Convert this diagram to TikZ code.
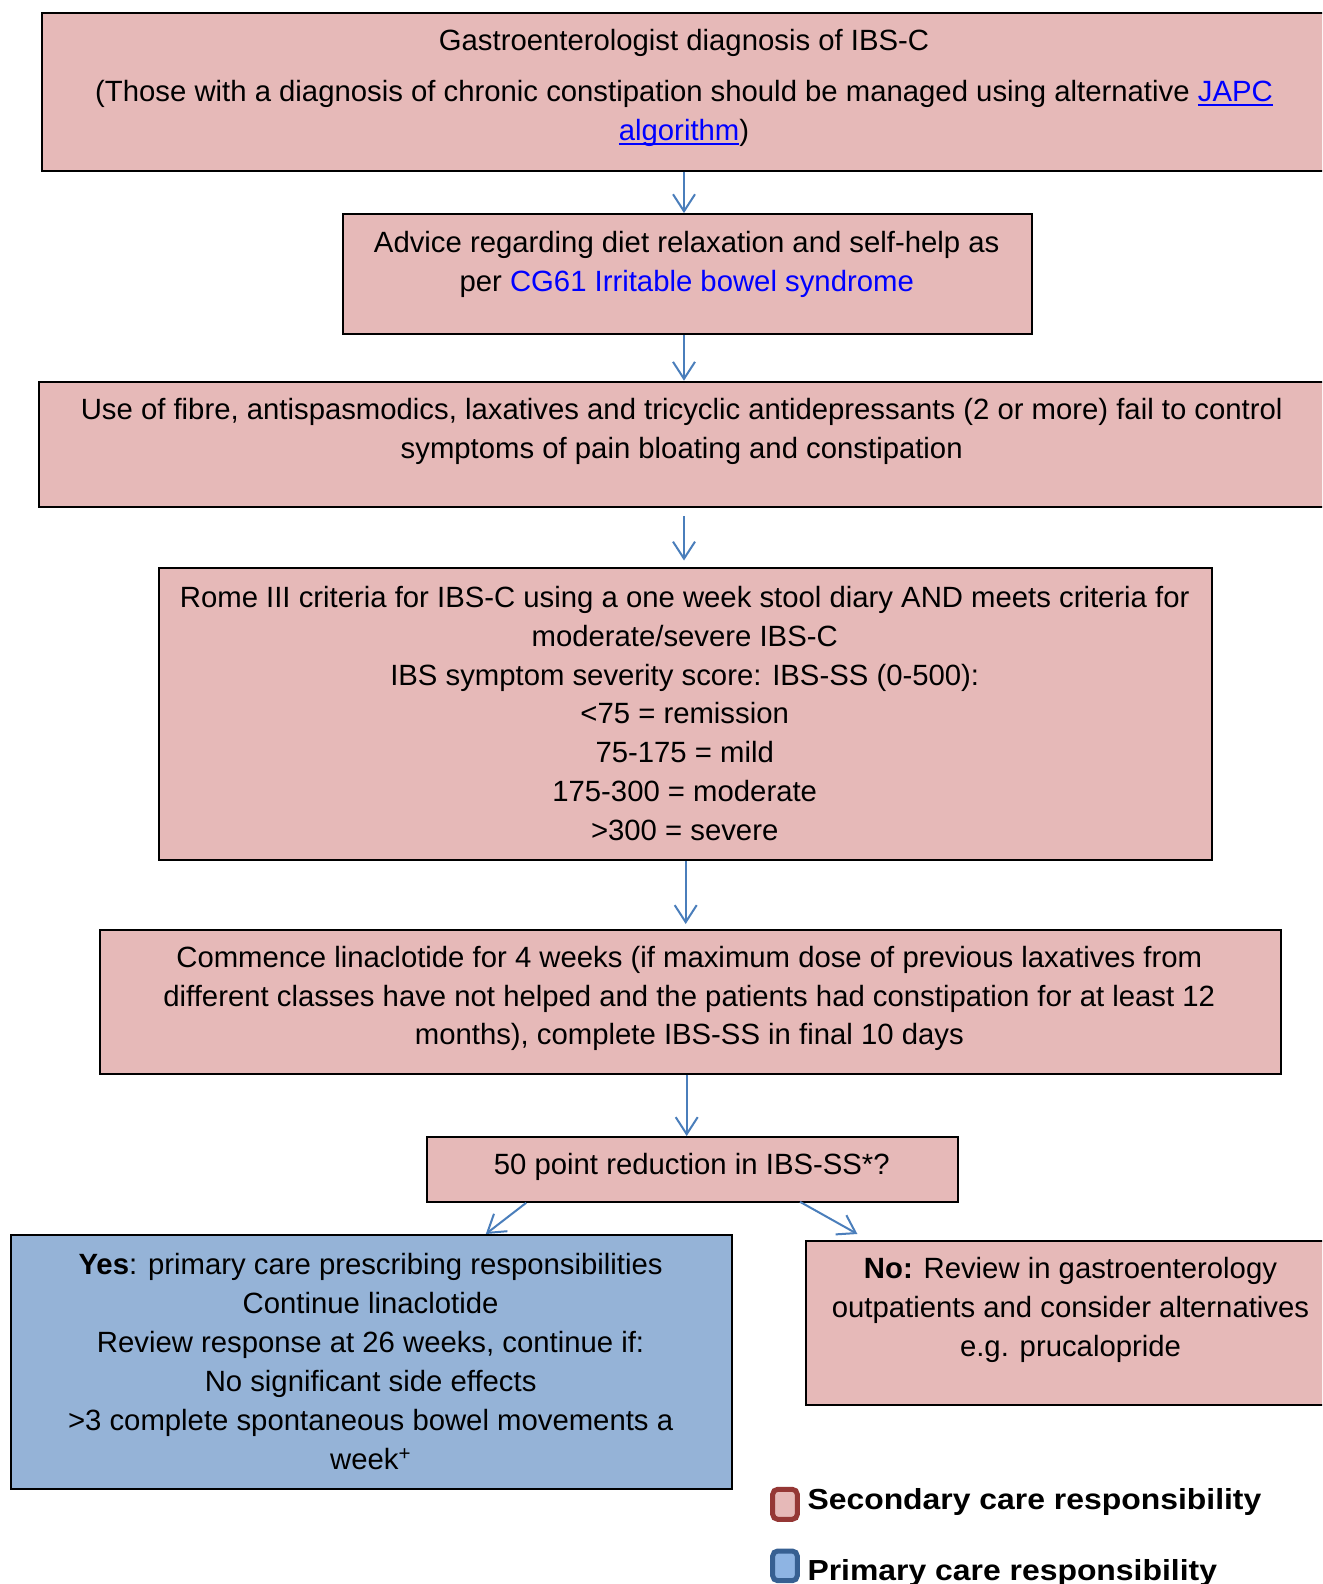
\documentclass[tikz,border=0pt]{standalone}
\usepackage{fontspec}
\usepackage{graphicx}
\setmainfont{Liberation Sans}
\usetikzlibrary{arrows.meta}
\definecolor{pinkfill}{HTML}{E6B9B8}
\definecolor{bluefill}{HTML}{95B3D7}
\definecolor{arrowblue}{HTML}{4A7EBB}
\definecolor{linkblue}{HTML}{0000FF}
\definecolor{legred}{HTML}{953735}
\definecolor{legblue}{HTML}{376092}
\definecolor{legbluefill}{HTML}{8EB4E3}
\newcommand{\lnk}[1]{\textcolor{linkblue}{\setbox0\hbox{#1}\rlap{\rule[-5pt]{\wd0}{2.6pt}}\box0}}
\begin{document}
\begin{tikzpicture}[x=1pt,y=-1pt,
  pinkbox/.style={draw=black,line width=2pt,fill=pinkfill,inner sep=0pt,anchor=north west},
  bluebox/.style={draw=black,line width=2pt,fill=bluefill,inner sep=0pt,anchor=north west},
  txt/.style={align=center,inner sep=0pt,font=\fontsize{29.3}{38.9}\selectfont},
  arr/.style={draw=arrowblue,line width=2pt,-{Straight Barb[length=17pt,width=22pt,line width=2pt]}},
  legtxt/.style={anchor=base west,inner sep=0pt,font=\fontsize{29}{35}\selectfont\bfseries},
  legbox/.style={line width=5pt,rounded corners=5pt,inner sep=0pt,anchor=north west,minimum width=24.6pt}]
\useasboundingbox (0,0) rectangle (1322,1584);
\clip (0,0) rectangle (1322,1584);
\fill[white] (0,0) rectangle (1322,1584);

% boxes
\node[pinkbox,minimum width=1290pt,minimum height=157.6pt] (b1) at (41.4,12.1) {};
\node[pinkbox,minimum width=688.7pt,minimum height=120.2pt] (b2) at (342.4,213.1) {};
\node[pinkbox,minimum width=1292pt,minimum height=125.3pt] (b3) at (38.4,380.7) {};
\node[pinkbox,minimum width=1053.4pt,minimum height=292.9pt] (b4) at (157.5,566.5) {};
\node[pinkbox,minimum width=1180.5pt,minimum height=143.5pt] (b5) at (99,929) {};
\node[pinkbox,minimum width=531.2pt,minimum height=64.8pt] (b6) at (426.2,1136) {};
\node[bluebox,minimum width=721.1pt,minimum height=253.6pt] (byes) at (10.1,1234) {};
\node[pinkbox,minimum width=530pt,minimum height=163.8pt] (bno) at (805,1240) {};

% texts
\node[txt] (t1a) at (684,43) {Gastroenterologist diagnosis of IBS-C};
\node[txt] (t1b) at (684,113.3) {(Those with a diagnosis of chronic constipation should be managed using alternative \lnk{JAPC}\\\lnk{algorithm})};
\node[txt] (t2) at (686.7,264.8) {Advice regarding diet relaxation and self-help as\\per \textcolor{linkblue}{CG61 Irritable bowel syndrome}};
\node[txt] (t3) at (681.7,431.4) {Use of fibre, antispasmodics, laxatives and tricyclic antidepressants (2 or more) fail to control\\symptoms of pain bloating and constipation};
\node[txt] (t4) at (684.7,713.5) {Rome III criteria for IBS-C using a one week stool diary AND meets criteria for\\moderate/severe IBS-C\\IBS symptom severity score: IBS-SS (0-500):\\<75 = remission\\75-175 = mild\\175-300 = moderate\\>300 = severe};
\node[txt] (t5) at (689.3,998.5) {Commence linaclotide for 4 weeks (if maximum dose of previous laxatives from\\different classes have not helped and the patients had constipation for at least 12\\months), complete IBS-SS in final 10 days};
\node[txt] (t6) at (691.8,1167.1) {50 point reduction in IBS-SS*?};
\node[txt] (tyes) at (370.6,1361.5) {\textbf{Yes}: primary care prescribing responsibilities\\Continue linaclotide\\Review response at 26 weeks, continue if:\\No significant side effects\\>3 complete spontaneous bowel movements a\\week\textsuperscript{+}};
\node[txt] (tno) at (1070.5,1310) {\textbf{No:} Review in gastroenterology\\outpatients and consider alternatives\\e.g. prucalopride};

% arrows
\coordinate (ax1) at (684,0);
\coordinate (ax3) at (684,0);
\coordinate (ax4) at (685.7,0);
\coordinate (ax5) at (686.7,0);
\draw[arr] (b1.south -| ax1) -- (b2.north -| ax1);
\draw[arr] (b2.south -| ax1) -- (b3.north -| ax1);
\draw[arr] ([yshift=-8pt]b3.south -| ax3) -- ([yshift=6pt]b4.north -| ax3);
\draw[arr] (b4.south -| ax4) -- ([yshift=5pt]b5.north -| ax4);
\draw[arr] (b5.south -| ax5) -- (b6.north -| ax5);
\draw[arr] ([xshift=100pt]b6.south west) -- ([xshift=475.7pt]byes.north west);
\draw[arr] ([xshift=373.8pt,yshift=1pt]b6.south west) -- ([xshift=52.4pt,yshift=6pt]bno.north west);

% legend
\node[legbox,draw=legred,fill=pinkfill,minimum height=30pt] (lr) at (770.2,1486.8) {};
\node[legbox,draw=legblue,fill=legbluefill,minimum height=29.7pt] (lb) at (770.2,1548.5) {};
\node[legtxt] (lrt) at (807.3,1509.5) {\scalebox{1.1}[1]{Secondary care responsibility}};
\node[legtxt] (lbt) at (807.3,1580) {\scalebox{1.1}[1]{Primary care responsibility}};
\end{tikzpicture}
\end{document}
